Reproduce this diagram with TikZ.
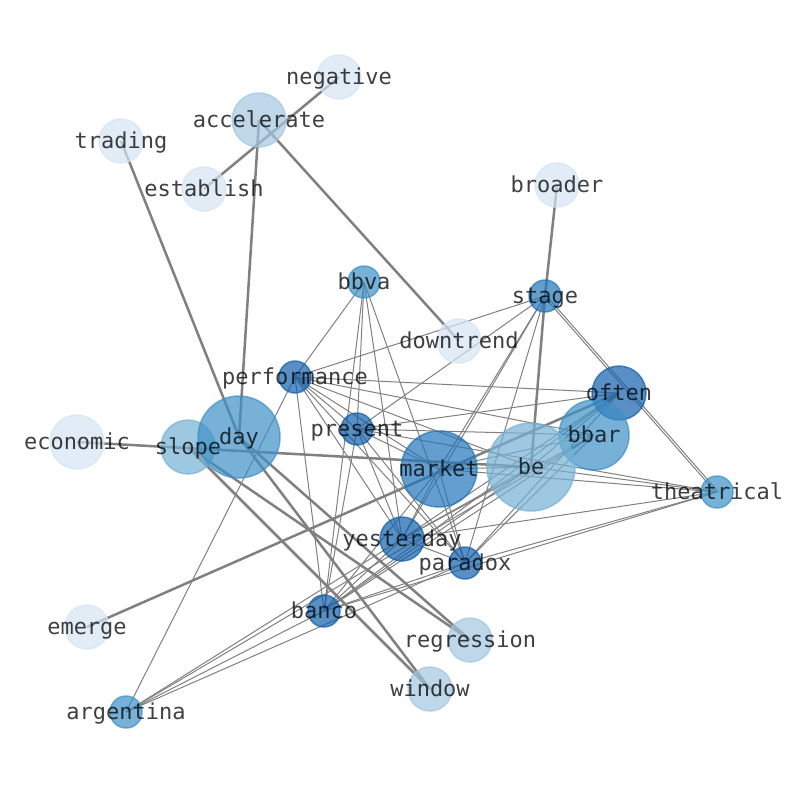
\documentclass[tikz,border=0pt]{standalone}
\usepackage{fontspec}
\newfontfamily\wordfont{DejaVu Sans Mono}
\definecolor{cA}{RGB}{212,228,244}
\definecolor{cB}{RGB}{162,198,224}
\definecolor{cC}{RGB}{117,177,213}
\definecolor{cD}{RGB}{62,144,198}
\definecolor{cE}{RGB}{34,117,185}
\definecolor{cF}{RGB}{17,95,171}
\definecolor{edgegray}{RGB}{128,128,128}
\tikzset{
  nd/.style={circle, inner sep=0pt, minimum size=#1, fill opacity=0.7, draw opacity=0.7, line width=1.5pt},
  lbl/.style={font=\wordfont\fontsize{22}{26}\selectfont, text=black, text opacity=0.75, inner sep=0pt, text height=16pt, text depth=4.5pt, yshift=-2pt},
  ethin/.style={draw=edgegray, line width=1pt},
  ethick/.style={draw=edgegray, line width=2.5pt}
}
\begin{document}
\begin{tikzpicture}[x=1pt,y=-1pt]
\useasboundingbox (0,0) rectangle (794,790);
% positions
\coordinate (negative) at (339,77);
\coordinate (accelerate) at (259,120);
\coordinate (trading) at (121,141);
\coordinate (establish) at (204,189);
\coordinate (broader) at (557,185);
\coordinate (bbva) at (364,282);
\coordinate (stage) at (545,296);
\coordinate (downtrend) at (459,341);
\coordinate (performance) at (295,377);
\coordinate (often) at (619,393);
\coordinate (economic) at (77,442);
\coordinate (slope) at (188,447);
\coordinate (day) at (239,437);
\coordinate (present) at (357,429);
\coordinate (bbar) at (594,435);
\coordinate (market) at (439,469);
\coordinate (be) at (531,467);
\coordinate (theatrical) at (717,492);
\coordinate (yesterday) at (402,539);
\coordinate (paradox) at (465,563);
\coordinate (banco) at (324,611);
\coordinate (emerge) at (87,627);
\coordinate (regression) at (470,640);
\coordinate (window) at (430,689);
\coordinate (argentina) at (126,712);
% thin edges
\foreach \a/\b in {bbva/performance, bbva/present, bbva/yesterday, bbva/paradox, bbva/banco,
  stage/performance, stage/present, stage/market, stage/yesterday, stage/paradox,
  performance/often, performance/bbar, performance/present, performance/market, performance/yesterday,
  performance/paradox, performance/banco, performance/argentina, performance/be,
  present/often, present/bbar, present/theatrical, present/market, present/yesterday, present/paradox, present/banco,
  market/bbar, market/theatrical, market/yesterday, market/paradox, market/banco,
  be/theatrical, be/yesterday, be/banco, be/market,
  often/yesterday, often/paradox, often/banco, often/be,
  bbar/yesterday, bbar/paradox, bbar/banco,
  theatrical/yesterday, theatrical/paradox, theatrical/banco,
  yesterday/paradox, yesterday/banco, yesterday/argentina,
  paradox/banco, paradox/argentina, banco/argentina, bbar/argentina}
  \draw[ethin] (\a) -- (\b);
\draw[ethin] ([xshift=-1.5pt]stage) -- ([xshift=-1.5pt]theatrical);
\draw[ethin] ([xshift=1.5pt]stage) -- ([xshift=1.5pt]theatrical);
% thick edges
\foreach \a/\b in {establish/negative, accelerate/day, accelerate/downtrend, trading/day,
  broader/stage, stage/be, economic/be, emerge/often,
  slope/regression, slope/window, day/regression, day/window}
  \draw[ethick] (\a) -- (\b);
% nodes
\node[nd=44pt, fill=cA, draw=cA] (negative-c) at (negative) {};
\node[nd=54pt, fill=cB, draw=cB] (accelerate-c) at (accelerate) {};
\node[nd=44pt, fill=cA, draw=cA] (trading-c) at (trading) {};
\node[nd=44pt, fill=cA, draw=cA] (establish-c) at (establish) {};
\node[nd=44pt, fill=cA, draw=cA] (broader-c) at (broader) {};
\node[nd=32pt, fill=cD, draw=cD] (bbva-c) at (bbva) {};
\node[nd=32pt, fill=cE, draw=cE] (stage-c) at (stage) {};
\node[nd=44pt, fill=cA, draw=cA] (downtrend-c) at (downtrend) {};
\node[nd=32pt, fill=cF, draw=cF] (performance-c) at (performance) {};
\node[nd=54pt, fill=cA, draw=cA] (economic-c) at (economic) {};
\node[nd=54pt, fill=cC, draw=cC] (slope-c) at (slope) {};
\node[nd=82pt, fill=cD, draw=cD] (day-c) at (day) {};
\node[nd=32pt, fill=cF, draw=cF] (present-c) at (present) {};
\node[nd=54pt, fill=cF, draw=cF] (often-c) at (often) {};
\node[nd=70pt, fill=cD, draw=cD] (bbar-c) at (bbar) {};
\node[nd=76pt, fill=cE, draw=cE] (market-c) at (market) {};
\node[nd=88pt, fill=cC, draw=cC] (be-c) at (be) {};
\node[nd=32pt, fill=cD, draw=cD] (theatrical-c) at (theatrical) {};
\node[nd=44pt, fill=cF, draw=cF] (yesterday-c) at (yesterday) {};
\node[nd=32pt, fill=cF, draw=cF] (paradox-c) at (paradox) {};
\node[nd=32pt, fill=cF, draw=cF] (banco-c) at (banco) {};
\node[nd=44pt, fill=cA, draw=cA] (emerge-c) at (emerge) {};
\node[nd=44pt, fill=cB, draw=cB] (regression-c) at (regression) {};
\node[nd=44pt, fill=cB, draw=cB] (window-c) at (window) {};
\node[nd=32pt, fill=cD, draw=cD] (argentina-c) at (argentina) {};
% labels
\foreach \n in {negative, accelerate, trading, establish, broader, bbva, stage, downtrend,
  performance, often, economic, slope, day, present, bbar, market, be, theatrical,
  yesterday, paradox, banco, emerge, regression, window, argentina}
  \node[lbl] (\n-t) at (\n) {\n};
\end{tikzpicture}
\end{document}
